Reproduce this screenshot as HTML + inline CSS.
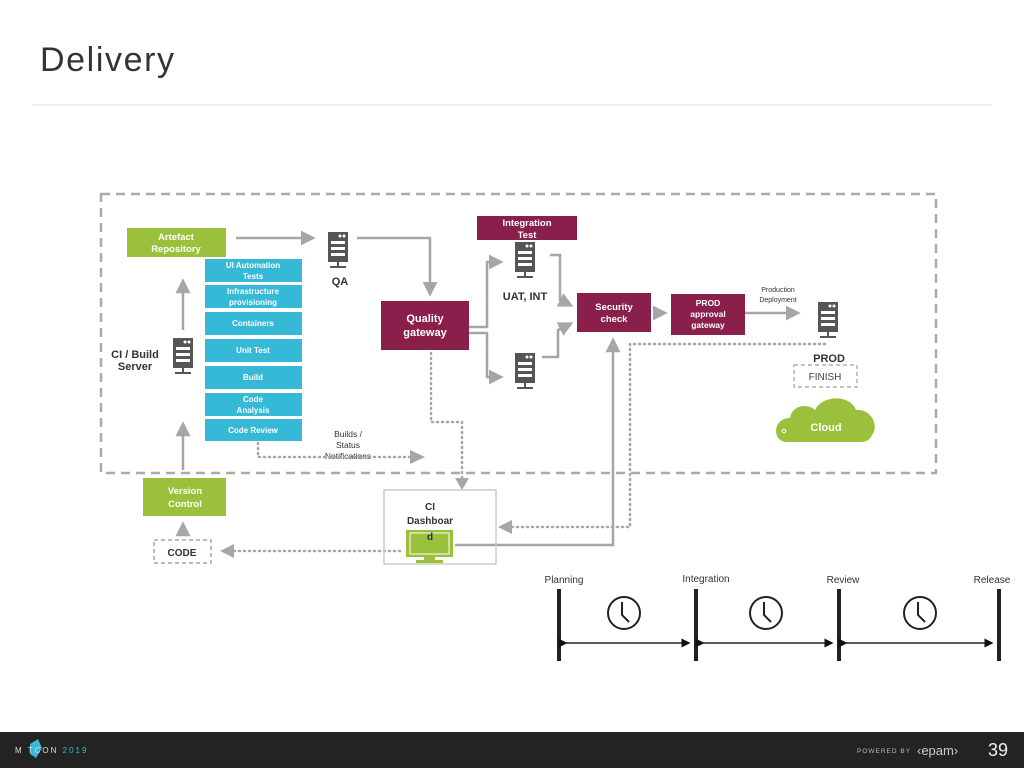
<!DOCTYPE html>
<html><head><meta charset="utf-8"><style>
body{margin:0;background:#fff}
svg{display:block;font-family:"Liberation Sans",sans-serif}
</style></head><body>
<svg width="1024" height="768" viewBox="0 0 1024 768" xmlns="http://www.w3.org/2000/svg">
<defs>
<marker id="ah" markerWidth="6" markerHeight="6" refX="4.5" refY="3" orient="auto" markerUnits="strokeWidth">
<path d="M0,0 L6,3 L0,6 z" fill="#a6a6a6"/></marker>
<marker id="ak" markerWidth="6" markerHeight="6" refX="5" refY="3" orient="auto" markerUnits="strokeWidth">
<path d="M0,0 L6,3 L0,6 z" fill="#111"/></marker>
<g id="srv">
<rect x="0" y="0" width="20" height="30" fill="#555"/>
<circle cx="12" cy="4" r="1.5" fill="#fff"/><circle cx="16" cy="4" r="1.5" fill="#fff"/>
<rect x="3" y="9" width="14" height="3" fill="#fff"/><rect x="3" y="15" width="14" height="3" fill="#fff"/><rect x="3" y="21" width="14" height="3" fill="#fff"/>
<rect x="9" y="30" width="2" height="4" fill="#555"/><rect x="2" y="34" width="16" height="2" fill="#555"/>
</g>
</defs>
<text x="40" y="71" font-size="34" fill="#333" letter-spacing="1.6">Delivery</text>
<rect x="32" y="104" width="960" height="2" fill="#eee"/>

<rect x="101" y="194" width="835" height="279" fill="none" stroke="#aaa" stroke-width="2.5" stroke-dasharray="9,6"/>

<g font-weight="bold" font-size="9.5" fill="#fff" text-anchor="middle">
<rect x="127" y="228" width="99" height="29" fill="#9bc13c"/>
<text x="176" y="240">Artefact</text><text x="176" y="252">Repository</text>
<g font-size="8">
<rect x="205" y="259" width="97" height="23" fill="#35b9d6"/><text x="253" y="268">UI Automation</text><text x="253" y="279">Tests</text>
<rect x="205" y="285" width="97" height="23" fill="#35b9d6"/><text x="253" y="294">Infrastructure</text><text x="253" y="305">provisioning</text>
<rect x="205" y="312" width="97" height="23" fill="#35b9d6"/><text x="253" y="326">Containers</text>
<rect x="205" y="339" width="97" height="23" fill="#35b9d6"/><text x="253" y="353">Unit Test</text>
<rect x="205" y="366" width="97" height="23" fill="#35b9d6"/><text x="253" y="380">Build</text>
<rect x="205" y="393" width="97" height="23" fill="#35b9d6"/><text x="253" y="402">Code</text><text x="253" y="413">Analysis</text>
<rect x="205" y="419" width="97" height="22" fill="#35b9d6"/><text x="253" y="433">Code Review</text>
</g>
<rect x="381" y="301" width="88" height="49" fill="#8b1f4b"/><text x="425" y="322" font-size="11">Quality</text><text x="425" y="336" font-size="11">gateway</text>
<rect x="477" y="216" width="100" height="24" fill="#8b1f4b"/><text x="527" y="226">Integration</text><text x="527" y="238">Test</text>
<rect x="577" y="293" width="74" height="39" fill="#8b1f4b"/><text x="614" y="310">Security</text><text x="614" y="322">check</text>
<rect x="671" y="294" width="74" height="41" fill="#8b1f4b"/><g font-size="8.5"><text x="708" y="306">PROD</text><text x="708" y="317">approval</text><text x="708" y="328">gateway</text></g>
<rect x="143" y="478" width="83" height="38" fill="#9bc13c"/><text x="185" y="494">Version</text><text x="185" y="507">Control</text>
</g>

<use href="#srv" x="173" y="338"/>
<use href="#srv" x="328" y="232"/>
<use href="#srv" x="515" y="242"/>
<use href="#srv" x="515" y="353"/>
<use href="#srv" x="818" y="302"/>

<g font-size="11" font-weight="bold" fill="#333" text-anchor="middle">
<text x="135" y="358">CI / Build</text><text x="135" y="370">Server</text>
<text x="340" y="285">QA</text>
<text x="525" y="300">UAT, INT</text>
<text x="829" y="362">PROD</text>
</g>
<g font-size="7" fill="#333" text-anchor="middle"><text x="778" y="292">Production</text><text x="778" y="302">Deployment</text></g>
<g font-size="8.5" fill="#333" text-anchor="middle"><text x="348" y="437">Builds /</text><text x="348" y="448">Status</text><text x="348" y="459">Notifications</text></g>
<rect x="794" y="365" width="63" height="22" fill="none" stroke="#888" stroke-dasharray="4,3"/>
<text x="825" y="380" font-size="10" fill="#444" text-anchor="middle">FINISH</text>

<path d="M787,442 C772,442 772,418 790,418 C792,405 808,403 815,410 C822,395 850,394 856,410 C870,408 880,425 872,435 C870,440 866,442 860,442 Z" fill="#9bc13c"/>
<circle cx="784" cy="431" r="1.8" fill="none" stroke="#fff"/>
<text x="826" y="431" font-size="11" font-weight="bold" fill="#fff" text-anchor="middle">Cloud</text>

<g stroke="#a6a6a6" stroke-width="2.5" fill="none">
<line x1="236" y1="238" x2="312" y2="238" marker-end="url(#ah)"/>
<path d="M357,238 H430 V293" marker-end="url(#ah)"/>
<line x1="183" y1="330" x2="183" y2="282" marker-end="url(#ah)"/>
<line x1="183" y1="470" x2="183" y2="425" marker-end="url(#ah)"/>
<line x1="183" y1="536" x2="183" y2="525" marker-end="url(#ah)"/>
<path d="M469,327 H487 V262 H500" marker-end="url(#ah)"/>
<path d="M469,333 H487 V377 H500" marker-end="url(#ah)"/>
<path d="M550,255 H560 V300 L570,305" marker-end="url(#ah)"/>
<path d="M542,357 H558 V330 L570,324" marker-end="url(#ah)"/>
<line x1="655" y1="313" x2="664" y2="313" marker-end="url(#ah)"/>
<line x1="745" y1="313" x2="797" y2="313" marker-end="url(#ah)"/>
<path d="M455,545 H613 V341" marker-end="url(#ah)"/>
</g>
<g stroke="#a6a6a6" stroke-width="2.5" fill="none" stroke-dasharray="1,4" stroke-linecap="round">
<path d="M431,353 V422 H462 V478"/>
<path d="M258,443 V457 H412"/>
<path d="M825,344 H630 V527 H512"/>
<line x1="400" y1="551" x2="234" y2="551"/>
</g>
<g fill="#a6a6a6">
<path d="M455,478 L469,478 L462,490 z"/>
<path d="M410,450 L425,457 L410,464 z"/>
<path d="M512,520 L498,527 L512,534 z"/>
<path d="M234,544 L220,551 L234,558 z"/>
</g>

<rect x="384" y="490" width="112" height="74" fill="none" stroke="#ccc" stroke-width="1.5"/>
<g font-size="10" font-weight="bold" fill="#333" text-anchor="middle"><text x="430" y="510">CI</text><text x="430" y="524">Dashboar</text></g>
<rect x="406" y="530" width="47" height="27" fill="#9bc13c"/>
<rect x="410" y="533" width="39" height="21" fill="none" stroke="#fff" stroke-width="1"/>
<rect x="424" y="557" width="11" height="3" fill="#9bc13c"/><rect x="416" y="560" width="27" height="3" fill="#9bc13c"/>
<text x="430" y="540" font-size="10" font-weight="bold" fill="#333" text-anchor="middle">d</text>

<rect x="154" y="540" width="57" height="23" fill="none" stroke="#777" stroke-dasharray="4,3"/>
<text x="182" y="556" font-size="10" font-weight="bold" fill="#333" text-anchor="middle">CODE</text>

<g font-size="10" fill="#333" text-anchor="middle">
<text x="564" y="583">Planning</text><text x="706" y="582">Integration</text><text x="843" y="583">Review</text><text x="992" y="583">Release</text>
</g>
<g fill="#222"><rect x="557" y="589" width="4" height="72"/><rect x="694" y="589" width="4" height="72"/><rect x="837" y="589" width="4" height="72"/><rect x="997" y="589" width="4" height="72"/></g>
<g stroke="#222" stroke-width="1.5" fill="none">
<line x1="566" y1="643" x2="689" y2="643" marker-start="url(#ak)" marker-end="url(#ak)"/>
<line x1="703" y1="643" x2="832" y2="643" marker-start="url(#ak)" marker-end="url(#ak)"/>
<line x1="846" y1="643" x2="992" y2="643" marker-start="url(#ak)" marker-end="url(#ak)"/>
<circle cx="624" cy="613" r="16" stroke-width="2"/><path d="M622,602 V615 L629,622" stroke-width="2"/>
<circle cx="766" cy="613" r="16" stroke-width="2"/><path d="M764,602 V615 L771,622" stroke-width="2"/>
<circle cx="920" cy="613" r="16" stroke-width="2"/><path d="M918,602 V615 L925,622" stroke-width="2"/>
</g>

<rect x="0" y="732" width="1024" height="36" fill="#232323"/>
<path d="M30,744 L38,739 L42,748 L36,758 L30,754 z" fill="#3fb6d3"/>
<text x="15" y="753" font-size="8" fill="#ddd" letter-spacing="2">M  TCON <tspan fill="#3fb6d3">2019</tspan></text>
<text x="857" y="753" font-size="6.5" fill="#bbb" letter-spacing="1">POWERED BY</text>
<text x="917" y="755" font-size="13" fill="#ccc">‹epam›</text>
<text x="988" y="756" font-size="18" fill="#eee">39</text>
</svg>
</body></html>
